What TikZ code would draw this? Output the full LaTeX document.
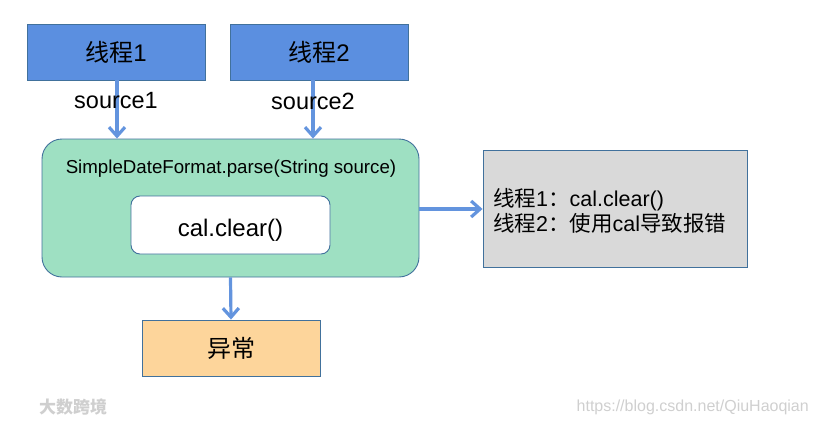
\documentclass[tikz,border=0pt]{standalone}
\usepackage{fontspec}
\setmainfont{Liberation Sans}
\newfontfamily\cjk{Noto Sans CJK SC}
\usetikzlibrary{arrows.meta,calc}
\definecolor{boxblue}{HTML}{5B8FE0}
\definecolor{edgeblue}{HTML}{41719C}
\definecolor{mint}{HTML}{9EE0C2}
\definecolor{lgray}{HTML}{D9D9D9}
\definecolor{peach}{HTML}{FDD59B}
\definecolor{arrowblue}{HTML}{6394DE}
\definecolor{wmark}{HTML}{CFCFCF}
\tikzset{
  box/.style={draw=edgeblue, line width=0.9pt, inner sep=0pt, minimum width=178pt, minimum height=56pt},
  threadbox/.style={box, fill=boxblue, font=\fontsize{24pt}{28pt}\selectfont},
  flow/.style={draw=arrowblue, line width=3.2pt, -{Straight Barb[length=9pt, width=16pt, line width=3.2pt]}},
  lbl/.style={font=\fontsize{23.5pt}{27pt}\selectfont, inner sep=0pt},
}
\begin{document}
\begin{tikzpicture}[x={(1pt,0pt)}, y={(0pt,-1pt)}]
\useasboundingbox (0,0) rectangle (817,423);
% thread boxes
\node[threadbox] (t1) at (116,52) {\cjk 线程\normalfont 1};
\node[threadbox] (t2) at (319,52) {\cjk 线程\normalfont 2};
% main box
\node[draw=edgeblue, line width=0.9pt, fill=mint, rounded corners=20pt,
      minimum width=377pt, minimum height=138pt, inner sep=0pt] (main) at (230.5,208) {};
\node[font=\fontsize{18.7pt}{22pt}\selectfont, inner sep=0pt] (title) at (231,169) {SimpleDateFormat.parse(String source)};
\node[draw=edgeblue, line width=0.9pt, fill=white, rounded corners=9pt,
      minimum width=199pt, minimum height=58pt, inner sep=0pt, text height=22.5pt, text depth=0pt,
      font=\fontsize{24pt}{28pt}\selectfont] (inner) at (230.5,225) {cal.clear()};
% gray note box
\node[draw=edgeblue, line width=0.9pt, fill=lgray, minimum width=264pt, minimum height=117pt, inner sep=0pt] (note) at (615,208.5) {};
\node[anchor=west, align=left, inner sep=0pt, font=\fontsize{21.5pt}{25pt}\selectfont] (notetext) at (493,210.5)
  {{\cjk 线程}1{\cjk ：}cal.clear()\\{\cjk 线程}2{\cjk ：使用}cal{\cjk 导致报错}};
% exception box
\node[box, fill=peach, font=\fontsize{24pt}{28pt}\selectfont] (exc) at (231,348) {\cjk 异常};
% arrows
\coordinate (a1) at ($(t1.south)+(1,0)$);
\coordinate (a2) at ($(t2.south)+(-6,0)$);
\draw[flow] (a1) -- (a1 |- main.north);
\draw[flow] (a2) -- (a2 |- main.north);
\draw[flow] (main.east |- 0,209) -- (note.west |- 0,209);
\draw[flow] (main.south) -- (exc.north);
% labels
\node[lbl] (s1) at (116,101) {source1};
\node[lbl] (s2) at (313,101) {source2};
% watermarks
\node[anchor=west, inner sep=0pt, text=wmark, font=\cjk\bfseries\fontsize{17pt}{20pt}\selectfont] (wm1) at (39,407) {大数跨境};
\node[anchor=east, inner sep=0pt, text=wmark, font=\fontsize{16pt}{19pt}\selectfont] (wm2) at (809,407) {https://blog.csdn.net/QiuHaoqian};
\end{tikzpicture}
\end{document}
